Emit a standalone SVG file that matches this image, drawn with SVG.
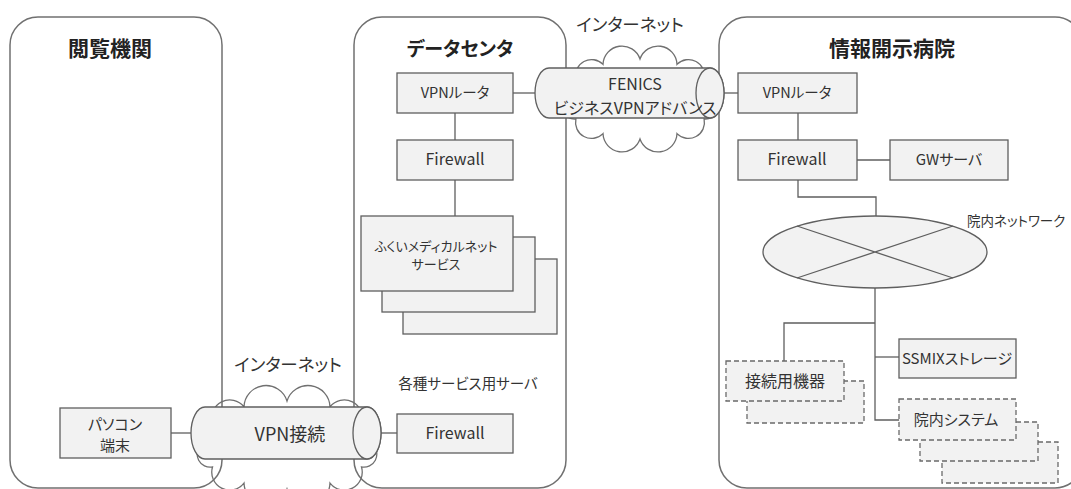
<svg xmlns="http://www.w3.org/2000/svg" width="1071" height="489" viewBox="0 0 1071 489">
<style>
text{font-family:"Noto Sans CJK JP","Noto Sans",sans-serif;fill:#333;text-anchor:middle;font-feature-settings:"palt";}
.title{font-size:21px;font-weight:bold;fill:#222;}
.lbl{font-size:15px;}
.fw{font-size:16px;}
.net{font-size:17.5px;}
.box{fill:#f2f2f2;stroke:#5f5f5f;stroke-width:1.3;}
.dash{fill:#f2f2f2;stroke:#6a6a6a;stroke-width:1.3;stroke-dasharray:5,3;}
.cont{fill:#fff;stroke:#707070;stroke-width:1.5;}
.cloud{fill:none;stroke:#707070;stroke-width:1.3;}
.cyl{fill:#f2f2f2;stroke:#5f5f5f;stroke-width:1.3;}
.ln{fill:none;stroke:#5f5f5f;stroke-width:1.3;}
</style>
<g id="containers">
<g id="etsuran"><rect class="cont" x="10" y="17" width="212" height="471" rx="28"/><text class="title" x="110" y="56">閲覧機関</text></g>
<g id="datacenter"><rect class="cont" x="354" y="17" width="212" height="471" rx="28"/><text class="title" x="460" y="56" style="font-size:19px">データセンタ</text></g>
<g id="hospital"><rect class="cont" x="719" y="17" width="364" height="471" rx="28"/><text class="title" x="892" y="56">情報開示病院</text></g>
</g>
<g id="connectors">
<path class="ln" d="M455,113V140"/>
<path class="ln" d="M455,180V216"/>
<path class="ln" d="M513,93H536"/>
<path class="ln" d="M724,93H738"/>
<path class="ln" d="M798,113V140"/>
<path class="ln" d="M857,160H890"/>
<path class="ln" d="M798,180V197H876V216"/>
<path class="ln" d="M875,288V420H899"/>
<path class="ln" d="M875,357H899"/>
<path class="ln" d="M875,323H784V361"/>
<path class="ln" d="M171,433H191"/>
<path class="ln" d="M381,433H397"/>
</g>
<g id="internet-top">
<path class="cloud" d="M566,99 A12,12 0 0 1 575.9,79 A16,16 0 0 1 603,64.4 A19,19 0 0 1 640,59 A19,19 0 0 1 677,64.4 A16,16 0 0 1 704.1,79 A12,12 0 0 1 714,99 A12,12 0 0 1 704.1,119 A16,16 0 0 1 677,133.6 A19,19 0 0 1 640,139 A19,19 0 0 1 603,133.6 A16,16 0 0 1 575.9,119 A12,12 0 0 1 566,99 Z"/>
<text class="net" x="630" y="31">インターネット</text>
</g>
<g id="fenics">
<path class="cyl" d="M549,68H710A14,25 0 0 1 710,118H549A14,25 0 0 1 549,68Z"/>
<ellipse class="cyl" cx="710" cy="93" rx="14" ry="25"/>
<text x="635" y="90" style="font-size:16px">FENICS</text>
<text x="635" y="114" style="font-size:16px">ビジネスVPNアドバンス</text>
</g>
<g id="internet-bottom">
<path class="cloud" d="M201,445 A13,13 0 0 1 212.5,423 A18,18 0 0 1 244,406.9 A22,22 0 0 1 287,401 A22,22 0 0 1 330,406.9 A18,18 0 0 1 361.5,423 A13,13 0 0 1 373,445 A13,13 0 0 1 361.5,467 A18,18 0 0 1 330,483.1 A22,22 0 0 1 287,489 A22,22 0 0 1 244,483.1 A18,18 0 0 1 212.5,467 A13,13 0 0 1 201,445 Z"/>
<text class="net" x="288" y="371">インターネット</text>
</g>
<g id="vpn-conn">
<path class="cyl" d="M205,407H367A14,26 0 0 1 367,459H205A14,26 0 0 1 205,407Z"/>
<ellipse class="cyl" cx="367" cy="433" rx="14" ry="26"/>
<text x="290" y="441" style="font-size:18px">VPN接続</text>
</g>
<g id="pc"><rect class="box" x="60" y="408" width="111" height="50"/><text class="lbl" x="115" y="430">パソコン</text><text class="lbl" x="115" y="451">端末</text></g>
<g id="dc-vpn"><rect class="box" x="397" y="73" width="116" height="40"/><text x="455" y="98" style="font-size:14.5px">VPNルータ</text></g>
<g id="dc-fw"><rect class="box" x="397" y="140" width="116" height="40"/><text class="fw" x="455" y="165">Firewall</text></g>
<g id="fukui">
<rect class="box" x="403" y="259" width="154" height="75"/>
<rect class="box" x="382" y="237" width="153" height="75"/>
<rect class="box" x="361" y="216" width="152" height="75"/>
<text x="436" y="251" style="font-size:13px">ふくいメディカルネット</text>
<text x="436" y="269" style="font-size:13px">サービス</text>
</g>
<text id="servers-label" x="468" y="389" style="font-size:14.5px">各種サービス用サーバ</text>
<g id="dc-fw2"><rect class="box" x="397" y="414" width="116" height="39"/><text class="fw" x="455" y="439">Firewall</text></g>
<g id="h-vpn"><rect class="box" x="738" y="73" width="119" height="40"/><text x="797" y="98" style="font-size:14.5px">VPNルータ</text></g>
<g id="h-fw"><rect class="box" x="738" y="140" width="119" height="40"/><text class="fw" x="797" y="165">Firewall</text></g>
<g id="gw"><rect class="box" x="890" y="140" width="118" height="40"/><text class="lbl" x="949" y="165">GWサーバ</text></g>
<g id="lan">
<ellipse class="box" cx="875" cy="252" rx="112" ry="36"/>
<path class="ln" d="M797,226L953,278M797,278L953,226"/>
<text x="967" y="226" style="font-size:13.5px;text-anchor:start">院内ネットワーク</text>
</g>
<g id="ssmix"><rect class="box" x="899" y="339" width="117" height="39"/><text class="lbl" x="957" y="364">SSMIXストレージ</text></g>
<g id="setsuzoku">
<rect class="dash" x="747" y="381" width="117" height="42"/>
<rect class="dash" x="726" y="361" width="118" height="40"/>
<text x="785" y="387" style="font-size:16px">接続用機器</text>
</g>
<g id="innai">
<rect class="dash" x="942" y="442" width="116" height="41"/>
<rect class="dash" x="920" y="422" width="118" height="39"/>
<rect class="dash" x="899" y="399" width="117" height="41"/>
<text class="lbl" x="956" y="425">院内システム</text>
</g>
</svg>
